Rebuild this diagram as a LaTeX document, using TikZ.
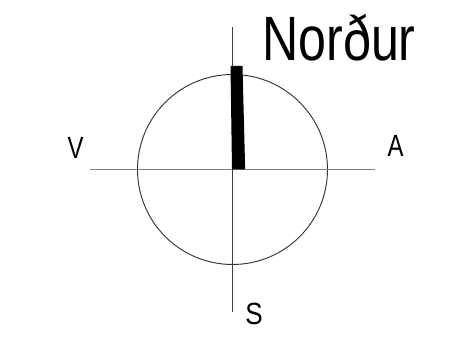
\documentclass[tikz,border=0pt]{standalone}
\usepackage{fontspec}
\setmainfont{Liberation Sans}
\usepackage{tikz}
\usetikzlibrary{positioning}

\begin{document}
\begin{tikzpicture}[
    x=0.75pt, y=0.75pt,
    ring/.style={draw=black!80, circle, minimum size=142.5pt, inner sep=0pt,
                 line width=0.7pt},
    axis/.style={line width=0.9pt},
    label/.style={font=\fontsize{23}{23}\selectfont, anchor=base, inner sep=0pt},
    title/.style={font=\fontsize{47}{47}\selectfont, anchor=base, inner sep=0pt}
  ]
  \useasboundingbox (0,0) rectangle (469,341);

  % Compass ring
  \node[ring] (ring) at (232.5,171.5) {};

  % Axis ends
  \coordinate (west) at (90,171.5);
  \coordinate (east) at (375,171.5);
  \coordinate (top) at (232.5,314);
  \coordinate (bottom) at (232.5,29);

  % Axes
  \draw[axis, black!50] (west) -- (east);
  \draw[axis, black!75, line width=0.75pt] (top) -- (bottom);

  % Needle
  \coordinate (tip) at (236.5,275);
  \fill (ring.center) ++(-0.5,0) -- ([xshift=-4.5]tip) -- ([xshift=4.5]tip)
        -- ([xshift=9.5]ring.center) -- cycle;

  % Labels
  \node[title] (north) at (339,280) {\scalebox{0.8}[1]{Norður}};
  \node[label] (V) at (75.5,182) {\scalebox{0.78}[1]{V}};
  \node[label] (A) at (395.5,184) {\scalebox{0.78}[1]{A}};
  \node[label] (S) at (254,16.5) {\scalebox{0.85}[1]{S}};
\end{tikzpicture}
\end{document}
